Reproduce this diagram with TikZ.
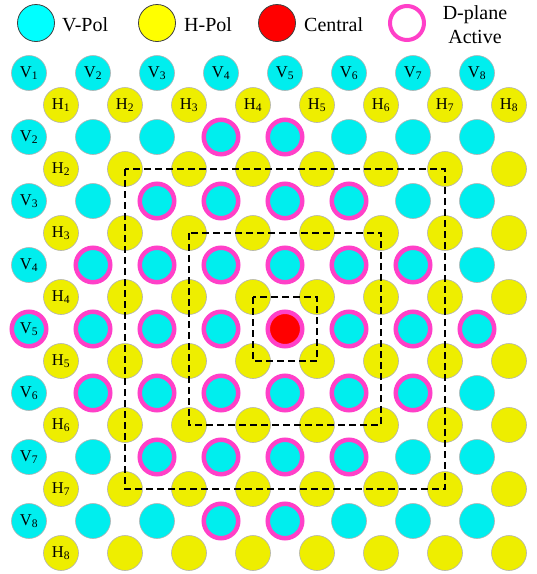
\documentclass[tikz,border=0pt]{standalone}
\usepackage{fontspec}
\setmainfont{Liberation Serif}
\definecolor{vcyan}{RGB}{0,238,238}
\definecolor{hyellow}{RGB}{238,238,0}
\definecolor{keycyan}{RGB}{0,255,255}
\definecolor{keyyellow}{RGB}{255,255,0}
\definecolor{dmag}{RGB}{255,64,200}

\begin{document}
\begin{tikzpicture}[x=1pt,y=-1pt,
    pol/.style={circle,inner sep=0pt,minimum size=35pt,draw=black!30,line width=0.6pt,
      font=\fontsize{16.5}{19}\selectfont},
    vpol/.style={pol,fill=vcyan},
    hpol/.style={pol,fill=hyellow},
    vact/.style={vpol,draw=dmag,line width=4.5pt,minimum size=34.5pt},
    vcen/.style={vact,fill=red},
    key/.style={circle,inner sep=0pt,minimum size=37pt,draw=black!75,line width=0.8pt},
    keytext/.style={anchor=base west,inner sep=0pt,font=\fontsize{20}{24}\selectfont},
    zone/.style={draw=black,line width=2pt,dash pattern=on 7pt off 4pt}]
    \useasboundingbox (0,0) rectangle (537,574);
    % legend
    \node[key,fill=keycyan] (key-v) at (36,23) {};
    \node[keytext] (txt-v) at (62,31.7) {V-Pol};
    \node[key,fill=keyyellow] (key-h) at (157,23) {};
    \node[keytext] (txt-h) at (184,31.7) {H-Pol};
    \node[key,fill=red] (key-c) at (277,23) {};
    \node[keytext] (txt-c) at (304,31.7) {Central};
    \node[circle,inner sep=0pt,minimum size=34pt,draw=dmag,line width=4pt] (key-d) at (407,23) {};
    \node[align=center,inner sep=0pt,font=\fontsize{20}{24}\selectfont] (txt-d) at (475,24.7) {D-plane\\Active};
    % H elements
    \foreach \j in {1,...,8}
      \foreach \i in {1,...,8} {
        \ifnum\j=1 \def\lab{H\textsubscript{\i}}\else
          \ifnum\i=1 \def\lab{H\textsubscript{\j}}\else\def\lab{}\fi\fi
        \node[hpol] (h-\i-\j) at ({64*\i-3},{64*\j+41}) {\lab};
      }
    % V elements, D-plane active ones ringed
    \foreach \j in {1,...,8}
      \foreach \i in {1,...,8} {
        \pgfmathtruncatemacro\act{(abs(\i-4.5)+abs(\j-5))<4}
        \ifnum\act=1 \tikzset{vnow/.style={vact}}\else\tikzset{vnow/.style={vpol}}\fi
        \ifnum\i=5 \ifnum\j=5 \tikzset{vnow/.style={vcen}}\fi\fi
        \ifnum\j=1 \def\lab{V\textsubscript{\i}}\else
          \ifnum\i=1 \def\lab{V\textsubscript{\j}}\else\def\lab{}\fi\fi
        \node[vnow] (v-\i-\j) at ({64*\i-35},{64*\j+9}) {\lab};
      }
    % zones
    \draw[zone] (h-2-2.center) rectangle (h-7-7.center);
    \draw[zone] (h-3-3.center) rectangle (h-6-6.center);
    \draw[zone] (h-4-4.center) rectangle (h-5-5.center);
\end{tikzpicture}
\end{document}
